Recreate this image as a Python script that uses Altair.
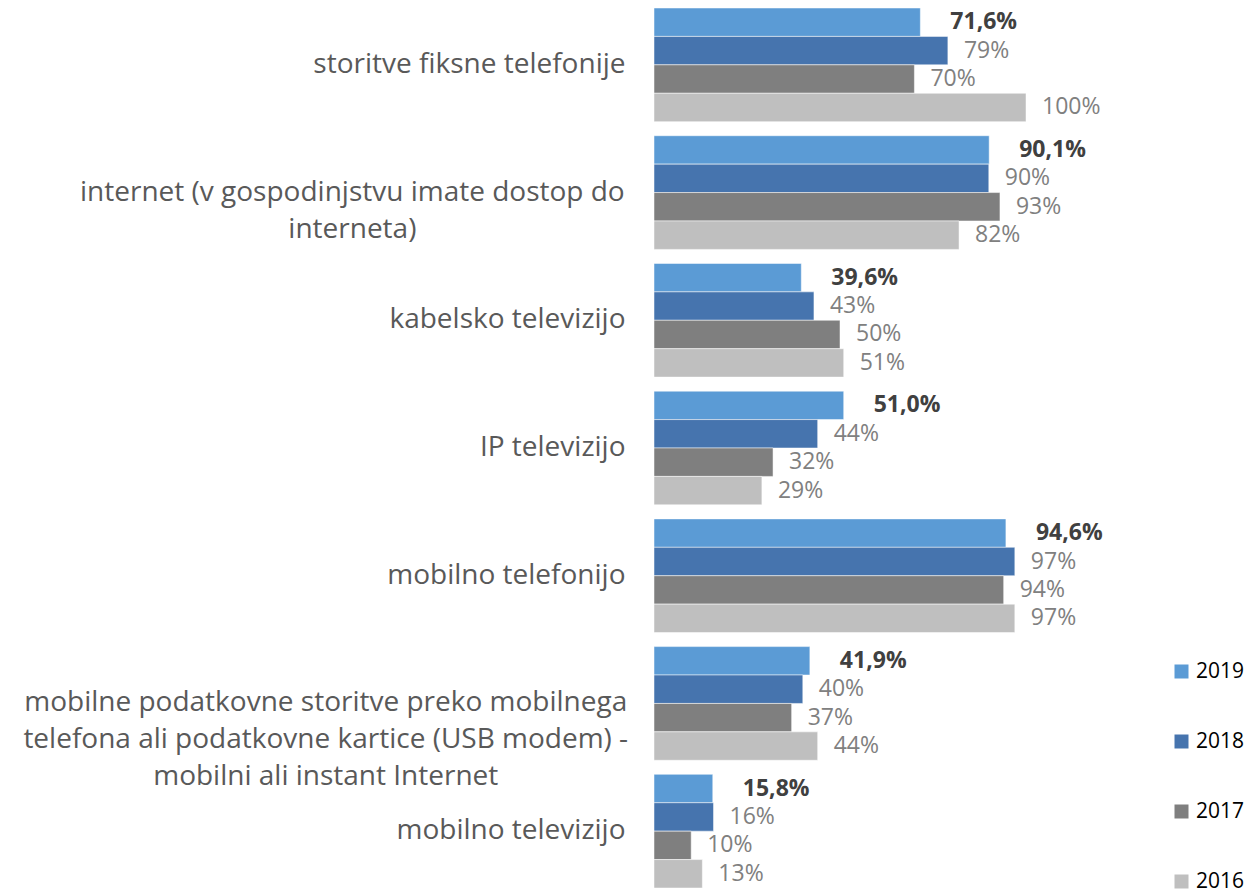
import altair as alt
import pandas as pd

categories = [
    ["storitve fiksne telefonije"],
    ["internet (v gospodinjstvu imate dostop do", "interneta)"],
    ["kabelsko televizijo"],
    ["IP televizijo"],
    ["mobilno telefonijo"],
    ["mobilne podatkovne storitve preko mobilnega",
     "telefona ali podatkovne kartice (USB modem) -",
     "mobilni ali instant Internet"],
    ["mobilno televizijo"],
]
years = ["2019", "2018", "2017", "2016"]
v2019 = [71.6, 90.1, 39.6, 51.0, 94.6, 41.9, 15.8]
v2018 = [79, 90, 43, 44, 97, 40, 16]
v2017 = [70, 93, 50, 32, 94, 37, 10]
v2016 = [100, 82, 51, 29, 97, 44, 13]
colors = ["#5B9BD5", "#4674AE", "#7F7F7F", "#BFBFBF"]

cat_names = ["\n".join(c) for c in categories]
series = {"2019": v2019, "2018": v2018, "2017": v2017, "2016": v2016}
rows = []
for y in years:
    for c, v in zip(cat_names, series[y]):
        rows.append({"category": c, "year": y, "value": v})
df = pd.DataFrame(rows)

# multi-line category labels (drawn centred, as in the reference)
ml = pd.DataFrame([{"category": "\n".join(c), "maxchars": max(len(s) for s in c)}
                   for c in categories if len(c) > 1])

FONT = "Open Sans"
LABEL_SIZE = 28
CHAR_W = 13.3   # average Open Sans glyph width at 28px
LABEL_GAP = 29

yenc = alt.Y("category:N", sort=cat_names, title=None,
             scale=alt.Scale(paddingInner=0.11, paddingOuter=0),
             axis=alt.Axis(labelExpr="indexof(datum.label, '\\n') >= 0 ? '' : datum.label",
                           labelFont=FONT, labelFontSize=LABEL_SIZE, labelColor="#595959",
                           labelPadding=LABEL_GAP, ticks=False, domain=False, labelLimit=700,
                           labelAlign="right", labelBaseline="middle"))

base = alt.Chart(df).transform_calculate(
    label="datum.year == '2019' ? replace(format(datum.value, '.1f'), '.', ',') + '%' : format(datum.value, '.0f') + '%'"
).encode(
    y=yenc,
    yOffset=alt.YOffset("year:N", sort=years, scale=alt.Scale(paddingInner=0, paddingOuter=0)),
)

bars = base.mark_bar(stroke="white", strokeWidth=0.5).encode(
    x=alt.X("value:Q", scale=alt.Scale(domain=[0, 100]), axis=None),
    color=alt.Color("year:N", sort=years,
                    scale=alt.Scale(domain=years, range=colors),
                    legend=alt.Legend(title=None, orient="none", legendX=517, legendY=653,
                                      symbolType="square", symbolSize=196, symbolStrokeWidth=0,
                                      labelFont=FONT, labelFontSize=21, labelColor="#000000",
                                      rowPadding=48, labelOffset=4)),
)

labels_other = base.transform_filter("datum.year != '2019'").mark_text(
    align="left", baseline="middle", dx=16, font=FONT, fontSize=23, color="#808080"
).encode(x="value:Q", text="label:N")

labels_2019 = base.transform_filter("datum.year == '2019'").mark_text(
    align="left", baseline="middle", dx=30, font=FONT, fontSize=23, fontWeight="bold", color="#404040"
).encode(x="value:Q", text="label:N")

ml_labels = alt.Chart(ml).transform_calculate(
    lx=f"-{LABEL_GAP} - datum.maxchars * {CHAR_W} / 2"
).mark_text(
    align="center", baseline="middle", lineBreak="\n", lineHeight=37,
    font=FONT, fontSize=LABEL_SIZE, color="#595959"
).encode(
    y=alt.Y("category:N", sort=cat_names),
    x=alt.X("lx:Q", scale=None),
    text="category:N",
)

chart = alt.layer(bars, labels_other, labels_2019, ml_labels).properties(
    width=372, height=880,
    autosize=alt.AutoSizeParams(type="none"),
    padding={"left": 646, "top": 0, "right": 222, "bottom": 2},
).configure_view(stroke=None)

chart.save("out.html", embed_options={"renderer": "svg", "actions": False})
